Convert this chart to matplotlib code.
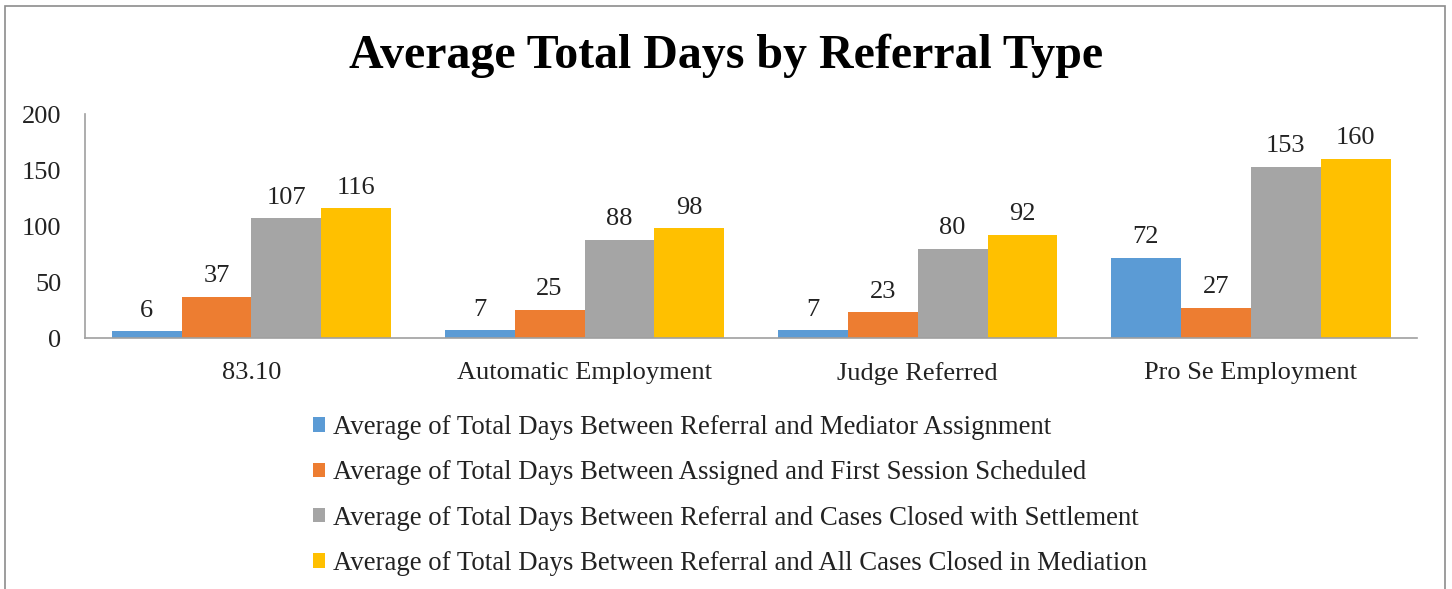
import numpy as np
import matplotlib
matplotlib.use('Agg')
import matplotlib.pyplot as plt
from matplotlib.patches import Rectangle

categories = ['83.10', 'Automatic Employment', 'Judge Referred', 'Pro Se Employment']
series_names = [
    'Average of Total Days Between Referral and Mediator Assignment',
    'Average of Total Days Between Assigned and First Session Scheduled',
    'Average of Total Days Between Referral and Cases Closed with Settlement',
    'Average of Total Days Between Referral and All Cases Closed in Mediation',
]
mediator_assignment = [6, 7, 7, 72]
first_session = [37, 25, 23, 27]
closed_settlement = [107, 88, 80, 153]
closed_all = [116, 98, 92, 160]
colors = ['#5B9BD5', '#ED7D31', '#A5A5A5', '#FFC000']

plt.rcParams['font.family'] = ['Liberation Serif', 'DejaVu Serif']

fig = plt.figure(figsize=(14.52, 5.89), dpi=100)
ax = fig.add_axes([0.0585, 0.426, 0.9175, 0.380])

x = np.arange(len(categories))
width = 0.21
all_series = [mediator_assignment, first_session, closed_settlement, closed_all]
for i, (vals, name, col) in enumerate(zip(all_series, series_names, colors)):
    bars = ax.bar(x + (i - 1.5) * width, vals, width, color=col, label=name)
    for b, v in zip(bars, vals):
        ax.annotate(str(v), (b.get_x() + b.get_width() / 2, v),
                    xytext=(0, 7), textcoords='offset points',
                    ha='center', va='bottom', fontsize=19, color='#222222')

ax.set_xlim(-0.5, len(categories) - 0.5)
ax.set_ylim(0, 200)
ax.set_yticks([0, 50, 100, 150, 200])
ax.set_xticks(x)
ax.set_xticklabels(categories)
ax.tick_params(axis='both', length=0, labelsize=19, colors='#222222')
ax.tick_params(axis='y', pad=17)
ax.tick_params(axis='x', pad=17)
for s in ['top', 'right']:
    ax.spines[s].set_visible(False)
for s in ['left', 'bottom']:
    ax.spines[s].set_color('#A0A0A0')
    ax.spines[s].set_linewidth(1.2)

fig.text(0.5, 0.905, 'Average Total Days by Referral Type', ha='center', va='center',
         fontsize=34.5, fontweight='bold', color='black')

fig.legend(loc='upper left', bbox_to_anchor=(0.2065, 0.318), frameon=False,
           fontsize=19.3, handlelength=0.45, handleheight=0.45, handletextpad=0.27,
           labelspacing=0.76, borderpad=0, labelcolor='#222222')

# outer chart border
fig.patches.append(Rectangle((0.0035, -0.01), 0.9917, 1.0, transform=fig.transFigure,
                             fill=False, edgecolor='#8C8C8C', linewidth=1.2))

fig.savefig('out.png', dpi=100)
